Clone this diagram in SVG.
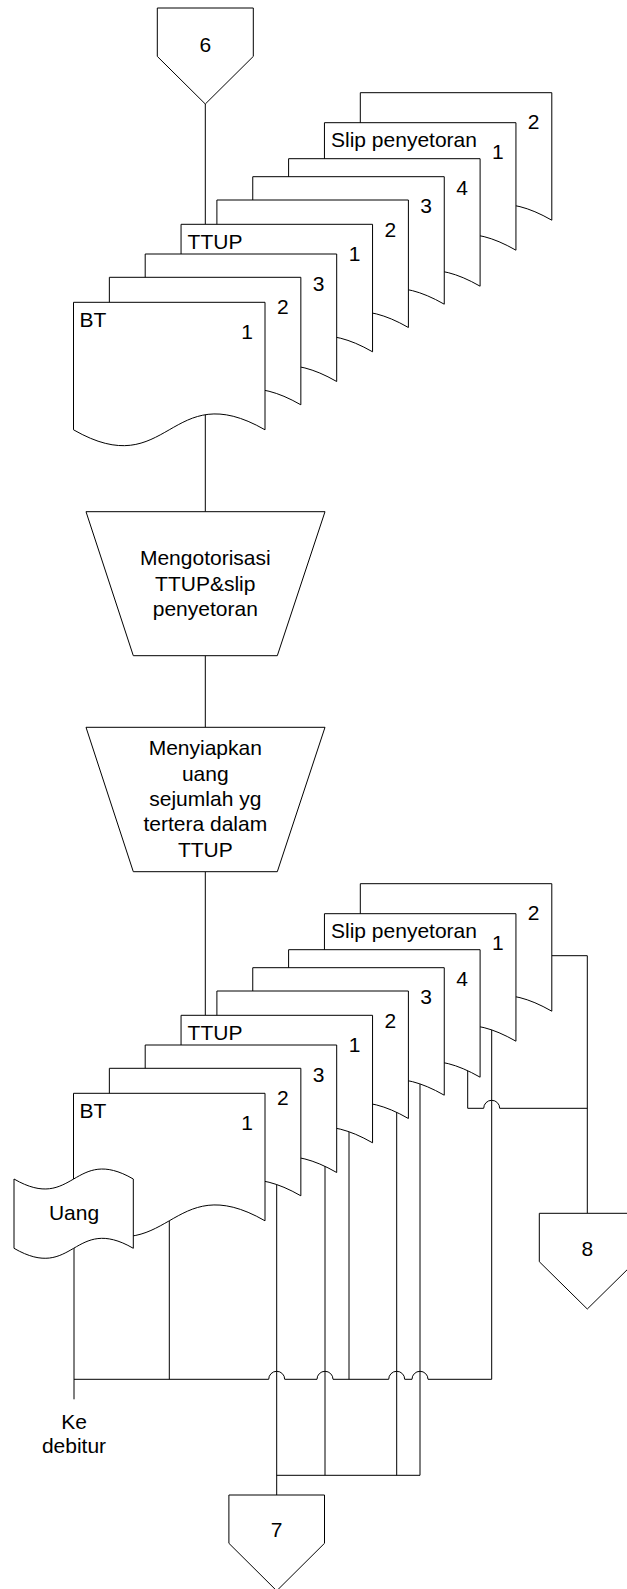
<svg xmlns="http://www.w3.org/2000/svg" width="627" height="1589" viewBox="0 0 627 1589">
<style>
.s{fill:#fff;stroke:#000;stroke-width:1}
.c{fill:none;stroke:#000;stroke-width:1}
text{font-family:"Liberation Sans",Arial,sans-serif;font-size:21px;fill:#000}
.m{text-anchor:middle}
</style>
<rect width="627" height="1589" fill="#fff"/>
<g id="connectors">
<path class="c" d="M205.3,104 V224.3"/>
<path class="c" d="M205.3,380 V511.7"/>
<path class="c" d="M205.3,655.7 V727.3"/>
<path class="c" d="M205.3,871.7 V1015.3"/>
<path class="c" d="M169.3,1190 V1379.3"/>
<path class="c" d="M276.7,1166 V1495"/>
<path class="c" d="M325,1142 V1475.3"/>
<path class="c" d="M349,1112 V1379.3"/>
<path class="c" d="M396.7,1088 V1475.3"/>
<path class="c" d="M420,1065 V1475.3"/>
<path class="c" d="M491.7,1011 V1379.3"/>
<path class="c" d="M467.7,1047 V1108.3 H483.7 A8,8 0 0 1 499.7,1108.3 H587.3"/>
<path class="c" d="M551.7,955.7 H587.3 V1213.3"/>
<path class="c" d="M74,1379.3 H268.7 A8,8 0 0 1 284.7,1379.3 H317 A8,8 0 0 1 333,1379.3 H388.7 A8,8 0 0 1 404.7,1379.3 H412 A8,8 0 0 1 428,1379.3 H491.7"/>
<path class="c" d="M276.7,1475.3 H420"/>
<path class="c" d="M74,1240 V1399.3"/>
</g>
<g id="off6">
<path class="s" d="M157.3,8 H253.3 V56.4 L205.3,104 L157.3,56.4 Z"/>
<text class="m" x="205.3" y="51.7">6</text>
</g>
<g id="top-slip2">
<path class="s" d="M360.3,92.7 H551.8 V220.2 C456.05,165.2 456.05,275.2 360.3,220.2 Z"/>
<text class="m" x="533.5" y="129.2">2</text>
</g>
<g id="top-slip1">
<path class="s" d="M324.45,122.7 H515.95 V250.2 C420.2,195.2 420.2,305.2 324.45,250.2 Z"/>
<text x="331" y="147">Slip penyetoran</text>
<text class="m" x="497.9" y="159.2">1</text>
</g>
<g id="top-ttup4">
<path class="s" d="M288.6,158.7 H480.1 V286.2 C384.35,231.2 384.35,341.2 288.6,286.2 Z"/>
<text class="m" x="462" y="195.2">4</text>
</g>
<g id="top-ttup3">
<path class="s" d="M252.75,176.7 H444.25 V304.2 C348.5,249.2 348.5,359.2 252.75,304.2 Z"/>
<text class="m" x="426.2" y="213.2">3</text>
</g>
<g id="top-ttup2">
<path class="s" d="M216.9,200 H408.4 V327.5 C312.65,272.5 312.65,382.5 216.9,327.5 Z"/>
<text class="m" x="390.3" y="236.5">2</text>
</g>
<g id="top-ttup1">
<path class="s" d="M181.05,224.3 H372.55 V351.8 C276.8,296.8 276.8,406.8 181.05,351.8 Z"/>
<text x="187.6" y="248.6">TTUP</text>
<text class="m" x="354.5" y="260.8">1</text>
</g>
<g id="top-bt3">
<path class="s" d="M145.2,254 H336.7 V381.5 C240.95,326.5 240.95,436.5 145.2,381.5 Z"/>
<text class="m" x="318.6" y="290.5">3</text>
</g>
<g id="top-bt2">
<path class="s" d="M109.35,277.3 H300.85 V404.8 C205.1,349.8 205.1,459.8 109.35,404.8 Z"/>
<text class="m" x="282.8" y="313.8">2</text>
</g>
<g id="top-bt1">
<path class="s" d="M73.5,302.3 H265 V429.8 C169.25,374.8 169.25,484.8 73.5,429.8 Z"/>
<text x="79.6" y="326.6">BT</text>
<text class="m" x="247" y="338.8">1</text>
</g>
<g id="proc-otorisasi">
<path class="s" d="M86,511.7 H325 L277.3,655.7 H133.3 Z"/>
<text class="m" x="205.3" y="565.2">Mengotorisasi</text>
<text class="m" x="205.3" y="590.5">TTUP&amp;slip</text>
<text class="m" x="205.3" y="615.8">penyetoran</text>
</g>
<g id="proc-siapkan">
<path class="s" d="M86,727.3 H325 L277.3,871.7 H133.3 Z"/>
<text class="m" x="205.3" y="755.2">Menyiapkan</text>
<text class="m" x="205.3" y="780.6">uang</text>
<text class="m" x="205.3" y="806">sejumlah yg</text>
<text class="m" x="205.3" y="831.4">tertera dalam</text>
<text class="m" x="205.3" y="856.8">TTUP</text>
</g>
<g id="bot-slip2">
<path class="s" d="M360.3,883.7 H551.8 V1011.2 C456.05,956.2 456.05,1066.2 360.3,1011.2 Z"/>
<text class="m" x="533.5" y="920.2">2</text>
</g>
<g id="bot-slip1">
<path class="s" d="M324.45,913.7 H515.95 V1041.2 C420.2,986.2 420.2,1096.2 324.45,1041.2 Z"/>
<text x="331" y="938">Slip penyetoran</text>
<text class="m" x="497.9" y="950.2">1</text>
</g>
<g id="bot-ttup4">
<path class="s" d="M288.6,949.7 H480.1 V1077.2 C384.35,1022.2 384.35,1132.2 288.6,1077.2 Z"/>
<text class="m" x="462" y="986.2">4</text>
</g>
<g id="bot-ttup3">
<path class="s" d="M252.75,967.7 H444.25 V1095.2 C348.5,1040.2 348.5,1150.2 252.75,1095.2 Z"/>
<text class="m" x="426.2" y="1004.2">3</text>
</g>
<g id="bot-ttup2">
<path class="s" d="M216.9,991 H408.4 V1118.5 C312.65,1063.5 312.65,1173.5 216.9,1118.5 Z"/>
<text class="m" x="390.3" y="1027.5">2</text>
</g>
<g id="bot-ttup1">
<path class="s" d="M181.05,1015.3 H372.55 V1142.8 C276.8,1087.8 276.8,1197.8 181.05,1142.8 Z"/>
<text x="187.6" y="1039.6">TTUP</text>
<text class="m" x="354.5" y="1051.8">1</text>
</g>
<g id="bot-bt3">
<path class="s" d="M145.2,1045 H336.7 V1172.5 C240.95,1117.5 240.95,1227.5 145.2,1172.5 Z"/>
<text class="m" x="318.6" y="1081.5">3</text>
</g>
<g id="bot-bt2">
<path class="s" d="M109.35,1068.3 H300.85 V1195.8 C205.1,1140.8 205.1,1250.8 109.35,1195.8 Z"/>
<text class="m" x="282.8" y="1104.8">2</text>
</g>
<g id="bot-bt1">
<path class="s" d="M73.5,1093.3 H265 V1220.8 C169.25,1165.8 169.25,1275.8 73.5,1220.8 Z"/>
<text x="79.6" y="1117.6">BT</text>
<text class="m" x="247" y="1129.8">1</text>
</g>
<g id="uang">
<path class="s" d="M14,1179 C73.65,1213.6 73.65,1144.4 133.3,1179 V1248.3 C73.65,1213.7 73.65,1282.9 14,1248.3 Z"/>
<text class="m" x="74" y="1220">Uang</text>
</g>
<g id="ke-debitur">
<text class="m" x="74" y="1429">Ke</text>
<text class="m" x="74" y="1453.3">debitur</text>
</g>
<g id="off8">
<path class="s" d="M539.3,1213.3 H635.3 V1261.7 L587.3,1309 L539.3,1261.7 Z"/>
<text class="m" x="587.3" y="1256">8</text>
</g>
<g id="off7">
<path class="s" d="M228.9,1495 H324.5 V1543.3 L276.7,1590.8 L228.9,1543.3 Z"/>
<text class="m" x="276.7" y="1537.3">7</text>
</g>
</svg>
